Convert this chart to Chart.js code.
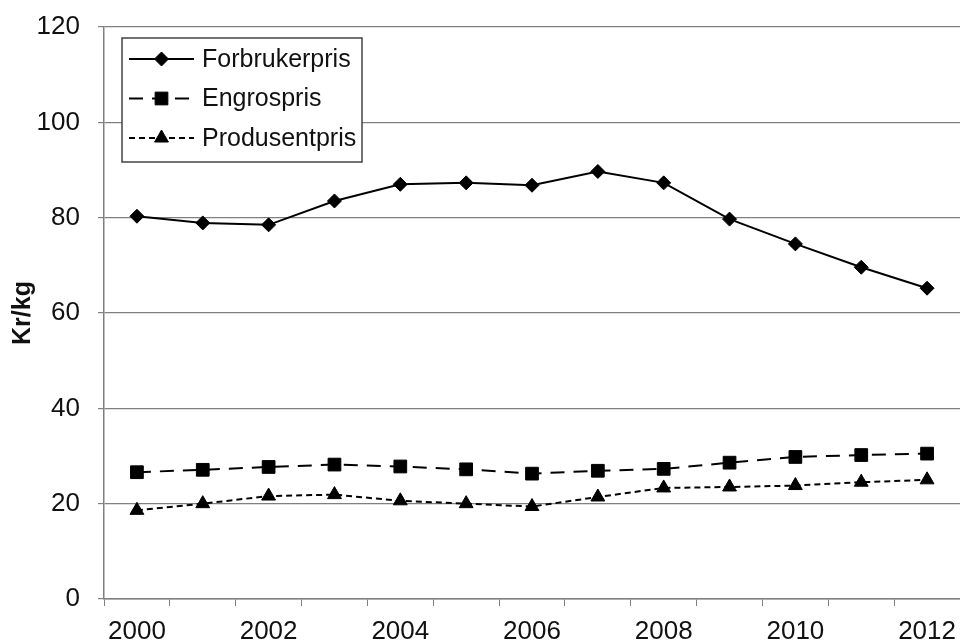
<!DOCTYPE html>
<html>
<head>
<meta charset="utf-8">
<script src="https://cdn.jsdelivr.net/npm/chart.js@4.4.1/dist/chart.umd.min.js"></script>
<style>
  html, body { margin: 0; padding: 0; background: #fff; overflow: hidden; }
  #wrap { width: 960px; height: 644px; position: relative; }
</style>
</head>
<body>
<div id="wrap"><canvas id="priceChart"></canvas></div>
<script>
const years = ['2000', '2001', '2002', '2003', '2004', '2005', '2006', '2007', '2008', '2009', '2010', '2011', '2012'];
const forbrukerpris = [80.3, 78.9, 78.5, 83.5, 87.0, 87.3, 86.8, 89.7, 87.3, 79.7, 74.5, 69.6, 65.2];
const engrospris = [26.6, 27.1, 27.7, 28.2, 27.8, 27.2, 26.3, 26.9, 27.3, 28.6, 29.8, 30.2, 30.5];
const produsentpris = [18.6, 20.0, 21.6, 21.9, 20.6, 20.0, 19.4, 21.4, 23.3, 23.5, 23.8, 24.5, 25.0];
const yTicks = [0, 20, 40, 60, 80, 100, 120];

const FONT = '"Liberation Sans", Arial, sans-serif';
const INK = '#111';
const GRID = '#808080';

// legend drawn inside the plot: line sample + marker + text, inside a framed box
const boxLegend = {
  id: 'boxLegend',
  afterDraw(chart) {
    const ctx = chart.ctx;
    const bx = 122, by = 38, bw = 240, bh = 124;
    ctx.save();
    ctx.fillStyle = '#fff';
    ctx.fillRect(bx, by, bw, bh);
    ctx.strokeStyle = '#444';
    ctx.lineWidth = 1.5;
    ctx.strokeRect(bx, by, bw, bh);
    chart.data.datasets.forEach((ds, i) => {
      const y = by + 21 + i * 39.5;
      ctx.strokeStyle = ds.borderColor;
      ctx.lineWidth = ds.borderWidth;
      ctx.setLineDash(ds.borderDash || []);
      ctx.beginPath();
      ctx.moveTo(129, y);
      ctx.lineTo(194, y);
      ctx.stroke();
      ctx.setLineDash([]);
      ctx.fillStyle = ds.pointBackgroundColor;
      ctx.strokeStyle = ds.pointBorderColor;
      ctx.lineWidth = ds.pointBorderWidth;
      Chart.helpers.drawPoint(ctx, {
        pointStyle: ds.pointStyle, radius: ds.pointRadius, rotation: 0, borderWidth: ds.pointBorderWidth
      }, 161.5, y);
      ctx.fillStyle = INK;
      ctx.font = '25px ' + FONT;
      ctx.textAlign = 'left';
      ctx.textBaseline = 'middle';
      ctx.fillText(ds.label, 202, y + 1);
    });
    ctx.restore();
  }
};

const ctx = document.getElementById('priceChart').getContext('2d');

new Chart(ctx, {
  type: 'line',
  data: {
    labels: years,
    datasets: [
      {
        label: 'Forbrukerpris',
        data: forbrukerpris,
        borderColor: '#000',
        borderWidth: 2,
        pointStyle: 'rectRot',
        pointRadius: 7,
        pointBackgroundColor: '#000',
        pointBorderColor: '#000',
        pointBorderWidth: 1,
        tension: 0
      },
      {
        label: 'Engrospris',
        data: engrospris,
        borderColor: '#000',
        borderWidth: 2,
        borderDash: [14, 9],
        pointStyle: 'rect',
        pointRadius: 9,
        pointBackgroundColor: '#000',
        pointBorderColor: '#000',
        pointBorderWidth: 1,
        tension: 0
      },
      {
        label: 'Produsentpris',
        data: produsentpris,
        borderColor: '#000',
        borderWidth: 2,
        borderDash: [6, 4],
        pointStyle: 'triangle',
        pointRadius: 8,
        pointBackgroundColor: '#000',
        pointBorderColor: '#000',
        pointBorderWidth: 1,
        tension: 0
      }
    ]
  },
  options: {
    responsive: true,
    maintainAspectRatio: false,
    animation: false,
    layout: { autoPadding: false, padding: { top: 27, right: 0, left: 0, bottom: 0 } },
    plugins: {
      legend: { display: false },
      tooltip: { enabled: false }
    },
    scales: {
      x: {
        offset: true,
        grid: {
          offset: true,
          drawOnChartArea: false,
          color: GRID,
          tickLength: 7
        },
        border: { color: GRID, width: 1.5 },
        ticks: {
          autoSkip: false,
          maxRotation: 0,
          color: INK,
          padding: 10,
          font: { family: FONT, size: 26 },
          callback: function (val, i) { return i % 2 === 0 ? this.getLabelForValue(val) : ''; }
        },
        afterFit: s => { s.height = 45; s.paddingLeft = 0; s.paddingRight = 0; }
      },
      y: {
        min: yTicks[0],
        max: yTicks[yTicks.length - 1],
        afterBuildTicks: s => { s.ticks = yTicks.map(v => ({ value: v })); },
        grid: { color: GRID, tickLength: 6, lineWidth: 1.2 },
        border: { color: GRID, width: 1.5 },
        ticks: {
          color: INK,
          padding: 18,
          font: { family: FONT, size: 26 }
        },
        title: {
          display: true,
          text: 'Kr/kg',
          color: INK,
          padding: { top: 8, bottom: 0 },
          font: { family: FONT, size: 25, weight: 'bold' }
        },
        afterFit: s => { s.width = 104; s.paddingTop = 0; s.paddingBottom = 0; }
      }
    }
  },
  plugins: [boxLegend]
});
</script>
</body>
</html>
